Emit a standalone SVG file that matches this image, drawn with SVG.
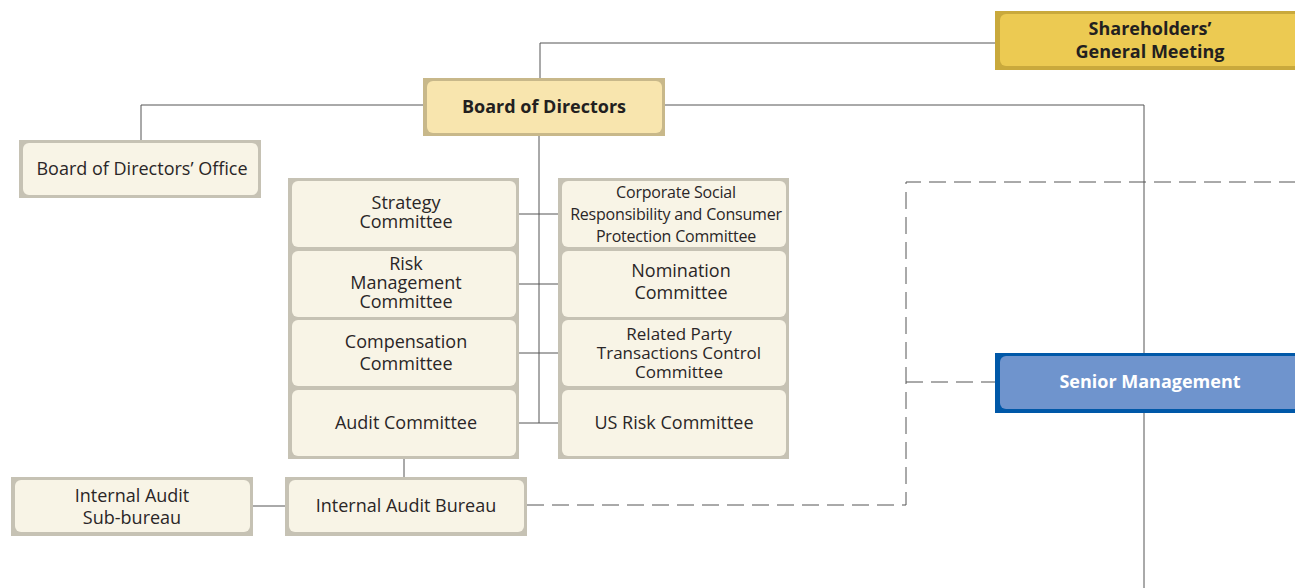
<svg xmlns="http://www.w3.org/2000/svg" width="1295" height="588" viewBox="0 0 1295 588">
  <style>
    .frame-grey { fill: #c6c2b4; }
    .fill-cream { fill: #f8f4e6; }
    .frame-gold { fill: #c9a93c; }
    .fill-gold { fill: #ecca52; }
    .frame-tan { fill: #c8b88a; }
    .fill-tan { fill: #f8e5ae; }
    .frame-blue { fill: #0058a8; }
    .fill-blue { fill: #6f94cd; }
    text { font-family: "Open Sans", "Noto Sans", "Liberation Sans", sans-serif; font-size: 18px; fill: #2a2627; text-anchor: middle; dominant-baseline: central; }
    .bold { font-weight: bold; fill: #231f20; }
    .white { font-weight: bold; fill: #ffffff; }
    .narrow { font-size: 16px; letter-spacing: -0.2px; }
    .mid { font-size: 17px; }
    .line { stroke: #555555; stroke-width: 1; fill: none; }
    .dash { stroke: #555555; stroke-width: 1; fill: none; stroke-dasharray: 17 8; }
  </style>

  <rect width="1295" height="588" fill="#ffffff"/>

  <!-- connectors -->
  <g id="connectors">
    <polyline class="line" points="995,43 540,43 540,78"/>
    <polyline class="line" points="423,105 141,105 141,140"/>
    <polyline class="line" points="665,105 1144,105 1144,588"/>
    <line class="line" x1="539" y1="136" x2="539" y2="423"/>
    <line class="line" x1="519" y1="214" x2="558" y2="214"/>
    <line class="line" x1="519" y1="284" x2="558" y2="284"/>
    <line class="line" x1="519" y1="353" x2="558" y2="353"/>
    <line class="line" x1="519" y1="423" x2="558" y2="423"/>
    <line class="line" x1="404" y1="459" x2="404" y2="478"/>
    <line class="line" x1="253" y1="506" x2="286" y2="506"/>
    <polyline class="dash" points="527,505 906,505 906,182 1295,182"/>
    <line class="dash" x1="906" y1="382" x2="995" y2="382"/>
  </g>

  <!-- Shareholders' General Meeting -->
  <g id="shareholders">
    <rect class="frame-gold" x="995" y="11" width="310" height="59"/>
    <rect class="fill-gold" x="1000" y="14" width="310" height="52" rx="6"/>
    <text class="bold" x="1150" y="28">Shareholders’</text>
    <text class="bold" x="1150" y="51">General Meeting</text>
  </g>

  <!-- Board of Directors -->
  <g id="board">
    <rect class="frame-tan" x="423" y="78" width="242" height="58"/>
    <rect class="fill-tan" x="427" y="81" width="235" height="52" rx="6"/>
    <text class="bold" x="544" y="106">Board of Directors</text>
  </g>

  <!-- Board of Directors' Office -->
  <g id="board-office">
    <rect class="frame-grey" x="19" y="140" width="242" height="58"/>
    <rect class="fill-cream" x="23" y="143" width="235" height="52" rx="6"/>
    <text x="142" y="168">Board of Directors’ Office</text>
  </g>

  <!-- left committee column -->
  <g id="committees-left">
    <rect class="frame-grey" x="288" y="178" width="231" height="281"/>
  </g>
  <g id="strategy">
    <rect class="fill-cream" x="292" y="181" width="224" height="66" rx="6"/>
    <text x="406" y="202">Strategy</text>
    <text x="406" y="221">Committee</text>
  </g>
  <g id="risk">
    <rect class="fill-cream" x="292" y="251" width="224" height="66" rx="6"/>
    <text x="406" y="263">Risk</text>
    <text x="406" y="282">Management</text>
    <text x="406" y="301">Committee</text>
  </g>
  <g id="compensation">
    <rect class="fill-cream" x="292" y="320" width="224" height="66" rx="6"/>
    <text x="406" y="341">Compensation</text>
    <text x="406" y="363">Committee</text>
  </g>
  <g id="audit">
    <rect class="fill-cream" x="292" y="390" width="224" height="66" rx="6"/>
    <text x="406" y="422">Audit Committee</text>
  </g>

  <!-- right committee column -->
  <g id="committees-right">
    <rect class="frame-grey" x="558" y="178" width="231" height="281"/>
  </g>
  <g id="csr">
    <rect class="fill-cream" x="562" y="181" width="224" height="66" rx="6"/>
    <text class="narrow" x="676" y="192">Corporate Social</text>
    <text class="narrow" x="676" y="214">Responsibility and Consumer</text>
    <text class="narrow" x="676" y="236">Protection Committee</text>
  </g>
  <g id="nomination">
    <rect class="fill-cream" x="562" y="251" width="224" height="66" rx="6"/>
    <text x="681" y="270">Nomination</text>
    <text x="681" y="292">Committee</text>
  </g>
  <g id="related-party">
    <rect class="fill-cream" x="562" y="320" width="224" height="66" rx="6"/>
    <text class="mid" x="679" y="333">Related Party</text>
    <text class="mid" x="679" y="352">Transactions Control</text>
    <text class="mid" x="679" y="371">Committee</text>
  </g>
  <g id="us-risk">
    <rect class="fill-cream" x="562" y="390" width="224" height="66" rx="6"/>
    <text x="674" y="422">US Risk Committee</text>
  </g>

  <!-- Internal Audit Sub-bureau -->
  <g id="audit-sub-bureau">
    <rect class="frame-grey" x="11" y="477" width="242" height="59"/>
    <rect class="fill-cream" x="15" y="480" width="235" height="52" rx="6"/>
    <text x="132" y="495">Internal Audit</text>
    <text x="132" y="517">Sub-bureau</text>
  </g>

  <!-- Internal Audit Bureau -->
  <g id="audit-bureau">
    <rect class="frame-grey" x="285" y="477" width="242" height="59"/>
    <rect class="fill-cream" x="289" y="480" width="235" height="52" rx="6"/>
    <text x="406" y="505">Internal Audit Bureau</text>
  </g>

  <!-- Senior Management -->
  <g id="senior-management">
    <rect class="frame-blue" x="995" y="353" width="310" height="60"/>
    <rect class="fill-blue" x="1000" y="356" width="310" height="53" rx="6"/>
    <text class="white" x="1150" y="381">Senior Management</text>
  </g>
</svg>
